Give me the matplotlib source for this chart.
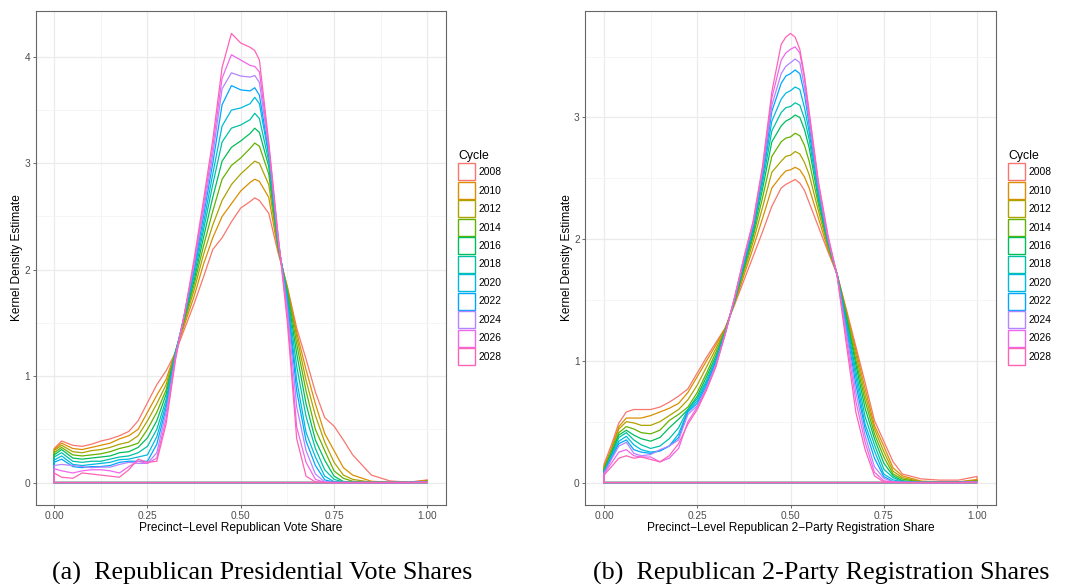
import numpy as np
import matplotlib
matplotlib.use("Agg")
import matplotlib.pyplot as plt
import matplotlib.ticker as ticker
from matplotlib.patches import Patch

plt.rcParams['font.family'] = ['Liberation Sans', 'DejaVu Sans']

W, H = 1071, 584

CYCLES = [2008, 2010, 2012, 2014, 2016, 2018, 2020, 2022, 2024, 2026, 2028]
# ggplot default hue palette, 11 levels
HUE = ["#F8766D", "#DB8E00", "#AEA200", "#64B200", "#00BD5C", "#00C1A7",
       "#00BADE", "#00A6FF", "#B385FF", "#EF67EB", "#FF63B6"]

# (a) precinct-level Republican vote share, density
# one row per x value, columns are the cycles 2008 ... 2028
VOTE_X = [0.0, 0.02, 0.05, 0.075, 0.1, 0.125, 0.15, 0.175, 0.2, 0.225, 0.25,
          0.275, 0.3, 0.325, 0.35, 0.375, 0.4, 0.425, 0.45, 0.475, 0.5, 0.525,
          0.5375, 0.55, 0.575, 0.6, 0.625, 0.65, 0.675, 0.7, 0.725, 0.75,
          0.775, 0.8, 0.85, 0.9, 0.95, 1.0]
VOTE_DENSITY = [
    [0.32, 0.31, 0.30, 0.28, 0.26, 0.24, 0.21, 0.19, 0.16, 0.13, 0.09],
    [0.39, 0.37, 0.35, 0.33, 0.31, 0.28, 0.25, 0.22, 0.17, 0.11, 0.05],
    [0.35, 0.32, 0.29, 0.26, 0.23, 0.20, 0.17, 0.15, 0.16, 0.09, 0.04],
    [0.34, 0.31, 0.28, 0.25, 0.22, 0.19, 0.16, 0.14, 0.15, 0.11, 0.09],
    [0.36, 0.33, 0.30, 0.26, 0.23, 0.20, 0.17, 0.15, 0.14, 0.12, 0.08],
    [0.39, 0.35, 0.31, 0.27, 0.24, 0.20, 0.18, 0.15, 0.145, 0.12, 0.07],
    [0.41, 0.37, 0.33, 0.29, 0.25, 0.22, 0.19, 0.16, 0.145, 0.11, 0.06],
    [0.44, 0.41, 0.36, 0.32, 0.28, 0.24, 0.215, 0.19, 0.17, 0.09, 0.05],
    [0.48, 0.44, 0.38, 0.34, 0.29, 0.25, 0.22, 0.20, 0.19, 0.15, 0.12],
    [0.58, 0.50, 0.44, 0.37, 0.33, 0.28, 0.24, 0.20, 0.18, 0.20, 0.22],
    [0.75, 0.66, 0.58, 0.50, 0.42, 0.34, 0.26, 0.20, 0.18, 0.18, 0.19],
    [0.92, 0.82, 0.74, 0.66, 0.58, 0.50, 0.43, 0.36, 0.28, 0.23, 0.20],
    [1.05, 0.97, 0.92, 0.87, 0.83, 0.78, 0.74, 0.70, 0.66, 0.60, 0.55],
    [1.22, 1.23, 1.23, 1.23, 1.22, 1.22, 1.21, 1.20, 1.19, 1.17, 1.15],
    [1.45, 1.49, 1.52, 1.54, 1.56, 1.57, 1.58, 1.59, 1.60, 1.60, 1.60],
    [1.68, 1.75, 1.81, 1.86, 1.90, 1.94, 1.98, 2.01, 2.04, 2.07, 2.10],
    [1.93, 2.05, 2.14, 2.22, 2.30, 2.37, 2.43, 2.50, 2.55, 2.60, 2.65],
    [2.19, 2.30, 2.42, 2.55, 2.68, 2.80, 2.90, 3.00, 3.08, 3.15, 3.22],
    [2.30, 2.50, 2.65, 2.85, 3.02, 3.20, 3.35, 3.55, 3.70, 3.80, 3.90],
    [2.45, 2.62, 2.80, 2.98, 3.15, 3.33, 3.50, 3.73, 3.85, 4.02, 4.22],
    [2.58, 2.74, 2.90, 3.05, 3.21, 3.36, 3.52, 3.69, 3.82, 3.97, 4.13],
    [2.64, 2.82, 2.98, 3.14, 3.28, 3.41, 3.56, 3.68, 3.81, 3.92, 4.09],
    [2.675, 2.85, 3.02, 3.19, 3.33, 3.47, 3.62, 3.71, 3.825, 3.91, 4.06],
    [2.65, 2.83, 3.00, 3.16, 3.29, 3.42, 3.56, 3.64, 3.76, 3.86, 3.97],
    [2.53, 2.68, 2.80, 2.90, 2.97, 3.02, 3.07, 3.10, 3.14, 3.17, 3.20],
    [2.16, 2.18, 2.20, 2.21, 2.23, 2.24, 2.26, 2.27, 2.29, 2.31, 2.33],
    [1.84, 1.83, 1.81, 1.80, 1.77, 1.75, 1.72, 1.68, 1.64, 1.57, 1.50],
    [1.45, 1.41, 1.37, 1.30, 1.21, 1.09, 0.96, 0.86, 0.71, 0.52, 0.41],
    [1.16, 1.06, 0.96, 0.86, 0.74, 0.62, 0.47, 0.39, 0.30, 0.19, 0.06],
    [0.85, 0.74, 0.63, 0.50, 0.40, 0.32, 0.24, 0.16, 0.08, 0.03, 0.005],
    [0.61, 0.46, 0.38, 0.30, 0.21, 0.12, 0.06, 0.025, 0.005, 0.002, 0.0],
    [0.53, 0.30, 0.19, 0.11, 0.06, 0.03, 0.008, 0.003, 0.0, 0.0, 0.0],
    [0.40, 0.14, 0.07, 0.04, 0.01, 0.005, 0.0, 0.0, 0.0, 0.0, 0.0],
    [0.26, 0.07, 0.03, 0.012, 0.004, 0.0, 0.0, 0.0, 0.0, 0.0, 0.0],
    [0.07, 0.012, 0.003, 0.0, 0.0, 0.0, 0.0, 0.0, 0.0, 0.0, 0.0],
    [0.015, 0.003, 0.0, 0.0, 0.0, 0.0, 0.0, 0.0, 0.0, 0.0, 0.0],
    [0.003, 0.002, 0.001, 0.0, 0.0, 0.0, 0.0, 0.0, 0.0, 0.0, 0.0],
    [0.025, 0.02, 0.015, 0.012, 0.01, 0.008, 0.006, 0.005, 0.004, 0.003, 0.002],
]

# (b) precinct-level Republican 2-party registration share
REG_X = [0.0, 0.02, 0.04, 0.06, 0.08, 0.1, 0.125, 0.15, 0.175, 0.2, 0.225,
         0.25, 0.275, 0.3, 0.325, 0.35, 0.375, 0.4, 0.425, 0.45, 0.475,
         0.4875, 0.5, 0.5125, 0.525, 0.5375, 0.55, 0.575, 0.6, 0.625, 0.65,
         0.675, 0.7, 0.725, 0.75, 0.775, 0.8, 0.85, 0.9, 0.95, 1.0]
REG_DENSITY = [
    [0.15, 0.13, 0.12, 0.11, 0.10, 0.09, 0.085, 0.08, 0.075, 0.07, 0.06],
    [0.31, 0.28, 0.27, 0.25, 0.24, 0.23, 0.22, 0.20, 0.19, 0.16, 0.13],
    [0.49, 0.46, 0.44, 0.41, 0.39, 0.37, 0.34, 0.32, 0.30, 0.25, 0.20],
    [0.58, 0.53, 0.50, 0.46, 0.43, 0.41, 0.38, 0.35, 0.33, 0.27, 0.22],
    [0.60, 0.53, 0.49, 0.44, 0.39, 0.35, 0.31, 0.27, 0.24, 0.22, 0.20],
    [0.60, 0.53, 0.47, 0.41, 0.36, 0.31, 0.27, 0.25, 0.22, 0.21, 0.21],
    [0.60, 0.55, 0.47, 0.40, 0.34, 0.28, 0.25, 0.24, 0.23, 0.21, 0.19],
    [0.62, 0.58, 0.50, 0.43, 0.37, 0.30, 0.26, 0.26, 0.27, 0.17, 0.17],
    [0.66, 0.61, 0.55, 0.51, 0.45, 0.36, 0.30, 0.30, 0.30, 0.20, 0.22],
    [0.71, 0.65, 0.60, 0.56, 0.52, 0.45, 0.40, 0.37, 0.35, 0.28, 0.32],
    [0.77, 0.74, 0.68, 0.62, 0.60, 0.60, 0.59, 0.58, 0.56, 0.50, 0.48],
    [0.90, 0.87, 0.80, 0.74, 0.71, 0.69, 0.67, 0.65, 0.63, 0.62, 0.60],
    [1.03, 1.00, 0.95, 0.90, 0.87, 0.84, 0.82, 0.80, 0.78, 0.77, 0.76],
    [1.15, 1.13, 1.10, 1.07, 1.04, 1.02, 1.00, 0.99, 0.97, 0.96, 0.95],
    [1.27, 1.27, 1.26, 1.25, 1.24, 1.24, 1.23, 1.23, 1.22, 1.22, 1.22],
    [1.46, 1.47, 1.48, 1.49, 1.49, 1.50, 1.50, 1.51, 1.51, 1.52, 1.52],
    [1.66, 1.70, 1.73, 1.75, 1.77, 1.79, 1.80, 1.81, 1.83, 1.84, 1.85],
    [1.86, 1.93, 1.98, 2.02, 2.05, 2.08, 2.10, 2.11, 2.13, 2.14, 2.15],
    [2.06, 2.17, 2.26, 2.34, 2.41, 2.46, 2.50, 2.53, 2.56, 2.58, 2.60],
    [2.27, 2.42, 2.55, 2.68, 2.80, 2.89, 2.97, 3.05, 3.10, 3.16, 3.21],
    [2.42, 2.52, 2.64, 2.80, 2.93, 3.04, 3.15, 3.28, 3.36, 3.47, 3.60],
    [2.45, 2.56, 2.68, 2.83, 2.97, 3.08, 3.20, 3.34, 3.42, 3.53, 3.66],
    [2.47, 2.57, 2.69, 2.84, 2.99, 3.09, 3.22, 3.36, 3.45, 3.56, 3.69],
    [2.49, 2.59, 2.72, 2.87, 3.02, 3.12, 3.25, 3.39, 3.48, 3.58, 3.66],
    [2.46, 2.57, 2.70, 2.85, 3.00, 3.10, 3.23, 3.36, 3.45, 3.53, 3.56],
    [2.40, 2.51, 2.63, 2.77, 2.90, 2.99, 3.08, 3.19, 3.25, 3.32, 3.34],
    [2.30, 2.42, 2.53, 2.64, 2.75, 2.82, 2.88, 2.94, 2.98, 3.02, 3.05],
    [2.10, 2.17, 2.23, 2.28, 2.32, 2.35, 2.38, 2.41, 2.43, 2.45, 2.47],
    [1.90, 1.92, 1.94, 1.96, 1.97, 1.98, 1.99, 2.00, 2.01, 2.02, 2.04],
    [1.71, 1.71, 1.71, 1.71, 1.71, 1.71, 1.71, 1.70, 1.70, 1.70, 1.70],
    [1.42, 1.40, 1.39, 1.37, 1.35, 1.32, 1.30, 1.26, 1.23, 1.18, 1.13],
    [1.12, 1.09, 1.055, 1.01, 0.97, 0.92, 0.87, 0.81, 0.745, 0.67, 0.58],
    [0.82, 0.77, 0.72, 0.67, 0.61, 0.54, 0.48, 0.44, 0.385, 0.33, 0.27],
    [0.51, 0.47, 0.44, 0.40, 0.36, 0.31, 0.26, 0.20, 0.13, 0.085, 0.055],
    [0.34, 0.30, 0.255, 0.21, 0.16, 0.11, 0.07, 0.05, 0.035, 0.015, 0.005],
    [0.17, 0.12, 0.093, 0.07, 0.055, 0.04, 0.022, 0.008, 0.005, 0.003, 0.002],
    [0.07, 0.055, 0.04, 0.028, 0.015, 0.008, 0.005, 0.003, 0.002, 0.001, 0.0],
    [0.03, 0.012, 0.007, 0.004, 0.002, 0.001, 0.0, 0.0, 0.0, 0.0, 0.0],
    [0.02, 0.006, 0.003, 0.001, 0.001, 0.001, 0.0, 0.0, 0.0, 0.0, 0.0],
    [0.02, 0.006, 0.004, 0.002, 0.001, 0.001, 0.0, 0.0, 0.0, 0.0, 0.0],
    [0.05, 0.025, 0.018, 0.012, 0.01, 0.008, 0.006, 0.005, 0.004, 0.003, 0.002],
]

XTICKS = [0.0, 0.25, 0.5, 0.75, 1.0]
XTICK_LABELS = ["0.00", "0.25", "0.50", "0.75", "1.00"]


def px_axes(left, top, right, bottom):
    """axes rectangle given in figure pixels (origin top-left)"""
    return [left / W, 1 - bottom / H, (right - left) / W, (bottom - top) / H]


def plot_density_panel(ax, xs, rows, xlabel, legend_xy):
    dens = np.asarray(rows, dtype=float).T
    if dens.shape != (len(CYCLES), len(xs)):
        raise ValueError(f"bad density table shape {dens.shape}")

    # geom_density outline: left edge, curve, right edge, baseline
    for y, color in zip(dens, HUE):
        xx = np.concatenate(([xs[0]], xs, [xs[-1], xs[0]]))
        yy = np.concatenate(([0.0], y, [0.0, 0.0]))
        ax.plot(xx, yy, color=color, lw=0.9, solid_joinstyle="round")

    top = dens.max()
    ax.set_xlim(-0.05, 1.05)
    ax.set_ylim(-0.05 * top, 1.05 * top)

    ax.set_xticks(XTICKS, XTICK_LABELS)
    ax.yaxis.set_major_locator(ticker.MultipleLocator(1))
    ax.xaxis.set_minor_locator(ticker.MultipleLocator(0.125))
    ax.yaxis.set_minor_locator(ticker.MultipleLocator(0.5))
    ax.grid(which="major", color="#EBEBEB", lw=0.9)
    ax.grid(which="minor", color="#F4F4F4", lw=0.6)
    ax.set_axisbelow(True)
    ax.tick_params(which="major", length=2.2, width=0.5, color="#333333",
                   labelsize=7.3, labelcolor="#4D4D4D", pad=1.8)
    ax.tick_params(which="minor", length=0)
    for sp in ax.spines.values():
        sp.set_color("#666666")
        sp.set_linewidth(0.8)

    ax.set_xlabel(xlabel, fontsize=8.6)
    ax.xaxis.set_label_coords(0.5, -0.034)
    ax.set_ylabel("Kernel Density Estimate", fontsize=8.6)
    ax.yaxis.set_label_coords(-0.03, 0.5)

    handles = [Patch(facecolor="white", edgecolor=c, lw=1.0, label=str(cy))
               for cy, c in zip(CYCLES, HUE)]
    ax.legend(handles=handles, title="Cycle", loc="upper left",
              bbox_to_anchor=(legend_xy[0] / W, 1 - legend_xy[1] / H),
              bbox_transform=ax.figure.transFigure, frameon=False,
              fontsize=7.4, title_fontsize=8.8, handlelength=1.65,
              handleheight=2.17, labelspacing=0.14, handletextpad=0.3,
              borderpad=0, borderaxespad=0, alignment="left")


fig = plt.figure(figsize=(W / 100, H / 100), dpi=100)

ax_a = fig.add_axes(px_axes(35.5, 11, 446, 505))
plot_density_panel(ax_a, np.array(VOTE_X), VOTE_DENSITY,
                   "Precinct\u2212Level Republican Vote Share", (458, 150))

ax_b = fig.add_axes(px_axes(585.3, 11, 995.7, 505))
plot_density_panel(ax_b, np.array(REG_X), REG_DENSITY,
                   "Precinct\u2212Level Republican 2\u2212Party Registration Share",
                   (1008, 150))

cap_kw = dict(ha="center", va="baseline", fontsize=18.8,
              family=["Liberation Serif", "DejaVu Serif"])
fig.text(262 / W, 1 - 580 / H, "(a)  Republican Presidential Vote Shares", **cap_kw)
fig.text(821 / W, 1 - 580 / H, "(b)  Republican 2-Party Registration Shares", **cap_kw)

fig.savefig("out.png", dpi=100)
